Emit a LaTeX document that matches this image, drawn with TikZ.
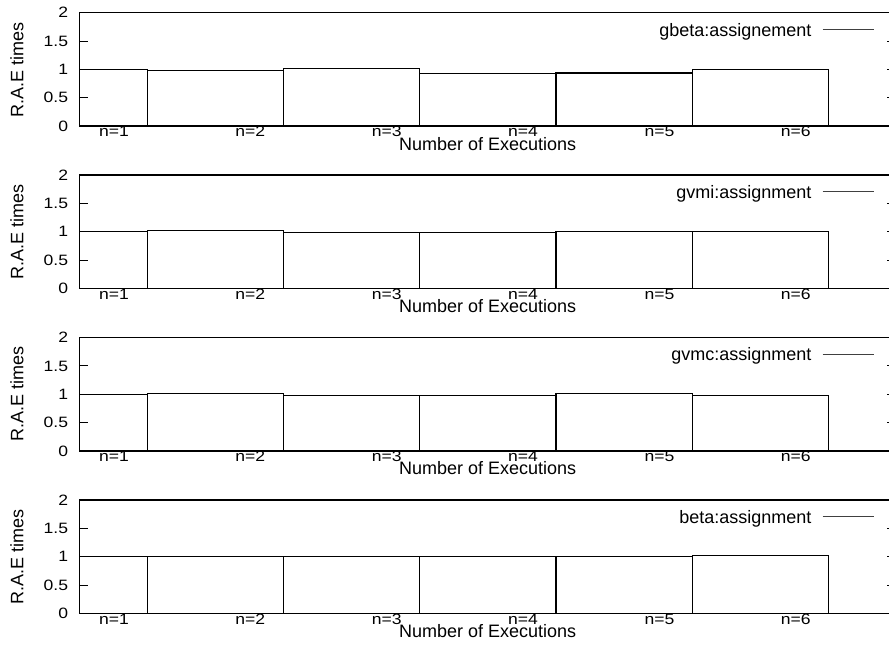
\documentclass[tikz,border=0pt]{standalone}
\usepackage{fontspec}
\setmainfont{Liberation Sans}
\newfontfamily\tickfont{Liberation Sans}[FakeStretch=1.17]
\begin{document}
\begin{tikzpicture}[x=1pt,y=-1pt,
  border/.style={line width=1.4pt,black},
  barbox/.style={line width=1.1pt,black},
  tickln/.style={line width=1pt,black},
  ticklab/.style={inner sep=0pt,font=\tickfont\fontsize{15}{17}\selectfont},
  biglab/.style={inner sep=0pt,font=\fontsize{18}{20}\selectfont},
  legline/.style={line width=1pt,black!75}]
\useasboundingbox (0,0) rectangle (889,645);
\foreach \p/\lab/\ha/\hb/\hc/\hd/\he/\hf in {
  0/gbeta:assignement/1.0/0.98/1.02/0.93/0.935/1.005,
  1/gvmi:assignment/1.0/1.03/0.99/0.995/1.0/1.0,
  2/gvmc:assignment/1.0/1.01/0.98/0.98/1.02/0.98,
  3/beta:assignment/1.0/1.0/1.0/1.0/1.0/1.02}{
  \pgfmathsetmacro\off{-162.45*\p}
  \begin{scope}[yshift=\off pt]
    % bars
    \foreach \h [count=\k] in {\ha,\hb,\hc,\hd,\he,\hf}{
      \pgfmathsetmacro\xl{\k==1 ? 79.3 : 11.6+136.1*(\k-1)}
      \pgfmathsetmacro\xr{147.7+136.1*(\k-1)}
      \pgfmathsetmacro\yt{126-56.65*\h}
      \draw[barbox] (\xl,126) rectangle (\xr,\yt);
      \pgfmathsetmacro\xc{114+136.35*(\k-1)}
      \node[ticklab,anchor=base] (xt\p-\k) at (\xc,136.7) {n=\k};
    }
    % ticks
    \foreach \v/\t [count=\i] in {0/0,0.5/0.5,1/1,1.5/1.5,2/2}{
      \pgfmathsetmacro\yy{126-56.65*\v}
      \draw[tickln] (79.3,\yy) -- (88,\yy);
      \draw[tickln] (887.3,\yy) -- (889,\yy);
      \node[ticklab,anchor=east] (yt\p-\i) at (68.3,\yy) {\t};
    }
    % frame
    \draw[border] (889,12.7) -- (79.3,12.7) -- (79.3,126) -- (889,126);
    % labels
    \node[biglab,rotate=90] (yl\p) at (17,69.5) {R.A.E times};
    \node[biglab,anchor=base] (xl\p) at (487.7,150) {Number of Executions};
    \node[biglab,anchor=base east] (lg\p) at (811.7,36) {\lab};
    \coordinate (la\p) at (822.7,29.5);
    \coordinate (lb\p) at (874,29.5);
    \draw[legline] (la\p) -- (lb\p);
  \end{scope}
}
\end{tikzpicture}
\end{document}
